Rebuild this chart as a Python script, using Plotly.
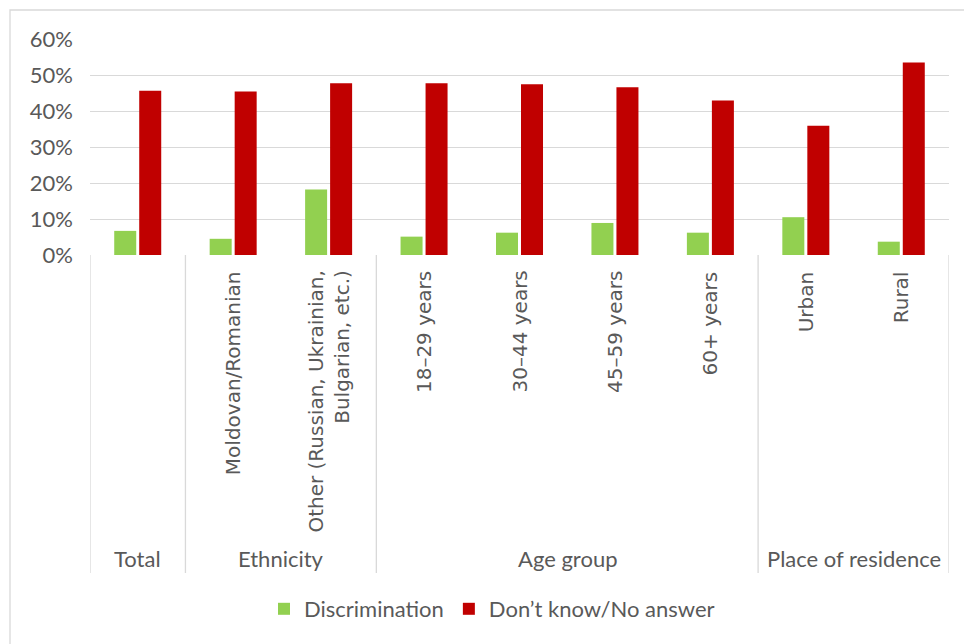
import plotly.graph_objects as go

categories = ["Total", "Moldovan/Romanian", "Other (Russian, Ukrainian,<br>Bulgarian, etc.)",
              "18–29 years", "30–44 years", "45–59 years", "60+ years", "Urban", "Rural"]
groups = ["Total", "Ethnicity", "Age group", "Place of residence"]
group_sizes = [1, 2, 4, 2]
discrimination = [0.067, 0.045, 0.182, 0.051, 0.062, 0.089, 0.062, 0.105, 0.037]
dont_know = [0.456, 0.454, 0.477, 0.477, 0.474, 0.466, 0.429, 0.359, 0.535]
y_ticks = [0, 0.1, 0.2, 0.3, 0.4, 0.5, 0.6]
series_names = ["Discrimination", "Don’t know/No answer"]
colors = ["#92D050", "#C00000"]

TXT = "#595959"
GRID = "#D9D9D9"
W, H = 964, 644
L, R, T, B = 90, 15, 39, 389
pw, ph = W - L - R, H - T - B

def py(pix):
    return (H - B - pix) / ph

def px(pix):
    return (pix - L) / pw

xs = list(range(len(categories)))
fig = go.Figure()
for name, vals, c in zip(series_names, [discrimination, dont_know], colors):
    fig.add_trace(go.Bar(x=xs, y=vals, name=name, marker=dict(color=c, line=dict(width=0))))

annotations = []
for i, cat in enumerate(categories):
    if cat == "Total":
        continue
    annotations.append(dict(x=i, xref="x", y=py(269), yref="paper", text=cat,
                            textangle=-90, xanchor="center", yanchor="top", align="right",
                            showarrow=False, font=dict(family="DejaVu Sans", size=20, color=TXT)))

shapes = []
start = 0
bounds = [-0.5]
for g, n in zip(groups, group_sizes):
    center = start + (n - 1) / 2
    annotations.append(dict(x=center, xref="x", y=py(558), yref="paper", text=g,
                            xanchor="center", yanchor="middle", showarrow=False,
                            font=dict(family="Lato", size=22, color=TXT)))
    start += n
    bounds.append(start - 0.5)
for b in bounds:
    shapes.append(dict(type="line", xref="x", x0=b, x1=b, yref="paper", y0=0, y1=py(573),
                       line=dict(color=GRID, width=1.3), layer="below"))
# chart area border
shapes.append(dict(type="rect", xref="paper", yref="paper", x0=px(10), x1=px(975),
                   y0=py(660), y1=py(10), line=dict(color=GRID, width=1.3), layer="below"))

fig.update_layout(
    width=W, height=H,
    margin=dict(l=L, r=R, t=T, b=B),
    paper_bgcolor="white", plot_bgcolor="white",
    barmode="group", bargap=0.476, bargroupgap=0.12,
    font=dict(family="Lato", size=22, color=TXT),
    xaxis=dict(range=[-0.5, len(categories) - 0.5], showticklabels=False, showgrid=False,
               zeroline=False, showline=False, fixedrange=True),
    yaxis=dict(range=[0, 0.6], tickvals=y_ticks, tickformat=".0%", showgrid=True,
               gridcolor=GRID, gridwidth=1.3, zeroline=False, showline=False,
               ticks="", ticklabelstandoff=16,
               tickfont=dict(family="Lato", size=22, color=TXT)),
    legend=dict(orientation="h", x=px(492), xanchor="center", y=py(609), yanchor="middle",
                font=dict(family="Lato", size=22, color=TXT), itemwidth=30,
                traceorder="normal"),
    annotations=annotations,
    shapes=shapes,
    showlegend=True,
)
fig.write_html("out.html", config={"displayModeBar": False},
               post_script="document.body.style.margin='0';")
